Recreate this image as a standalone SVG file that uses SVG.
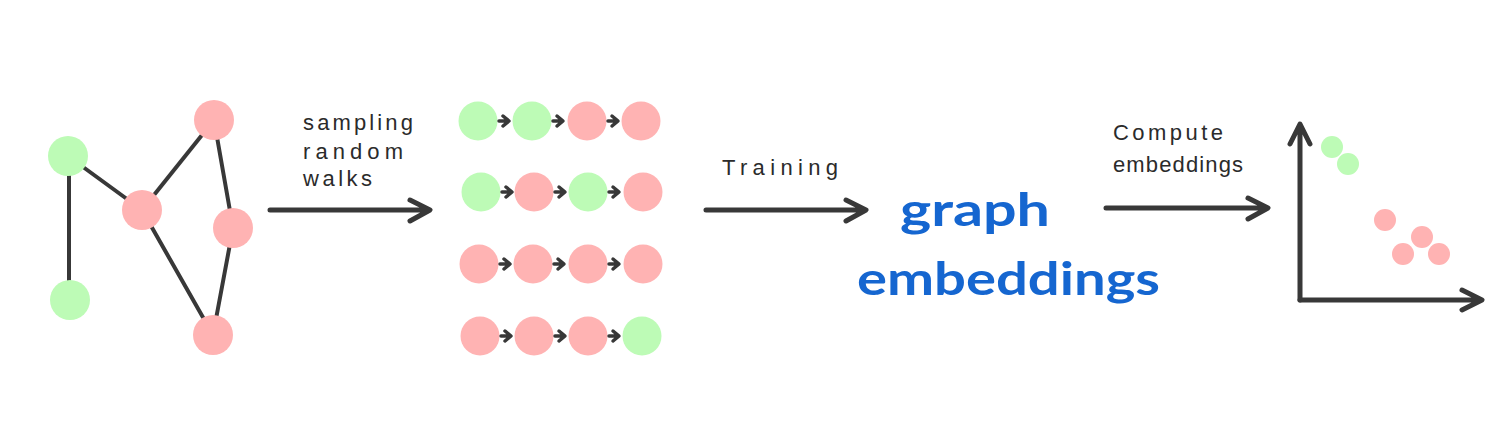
<svg xmlns="http://www.w3.org/2000/svg" width="1500" height="438" viewBox="0 0 1500 438">
<style>
.g{fill:#bdfbb6}
.p{fill:#ffb3b3}
.e{stroke:#383838;stroke-width:4;stroke-linecap:round;fill:none}
.a{stroke:#383838;stroke-width:5;stroke-linecap:round;stroke-linejoin:round;fill:none}
.s{stroke:#383838;stroke-width:3.5;stroke-linecap:round;stroke-linejoin:round;fill:none}
.t{font-family:"Liberation Sans",Arial,sans-serif;font-size:22px;fill:#2b2b2b}
.b{font-family:"Lato","Liberation Sans",sans-serif;font-size:46px;fill:#1566d0;font-weight:bold}
</style>
<rect width="1500" height="438" fill="#ffffff"/>
<g id="connectors">
<line class="e" x1="69" y1="160" x2="69" y2="296"/>
<line class="e" x1="68" y1="156" x2="142" y2="210"/>
<line class="e" x1="142" y1="210" x2="214" y2="120"/>
<line class="e" x1="142" y1="210" x2="213" y2="335"/>
<line class="e" x1="214" y1="120" x2="233" y2="228"/>
<line class="e" x1="233" y1="228" x2="213" y2="335"/>
<path class="a" d="M270 210 H429 M410 200 L430 210 L410 221"/>
<path class="a" d="M706 210 H864 M846 200 L866 210 L846 221"/>
<path class="a" d="M1106 208 H1267 M1248 198 L1268 208 L1248 219"/>
<path class="a" d="M1300 300 V126 M1290 144 L1300 124 L1310 144"/>
<path class="a" d="M1300 300 H1480 M1462 290 L1482 300 L1462 310"/>
</g>
<g id="graph-nodes">
<circle id="n1" class="g" cx="68" cy="156" r="20"/>
<circle id="n2" class="g" cx="70" cy="300" r="20"/>
<circle id="n3" class="p" cx="142" cy="210" r="20"/>
<circle id="n4" class="p" cx="214" cy="120" r="20"/>
<circle id="n5" class="p" cx="233" cy="228" r="20"/>
<circle id="n6" class="p" cx="213" cy="335" r="20"/>
</g>
<g id="label-sampling">
<text class="t" x="303" y="130" textLength="110" lengthAdjust="spacing">sampling</text>
<text class="t" x="303" y="159" textLength="100" lengthAdjust="spacing">random</text>
<text class="t" x="303" y="186" textLength="69" lengthAdjust="spacing">walks</text>
</g>
<g id="walks">
<g id="walk1">
<circle class="g" cx="478" cy="121" r="19.5"/>
<circle class="g" cx="532" cy="121" r="19.5"/>
<circle class="p" cx="587" cy="121" r="19.5"/>
<circle class="p" cx="641" cy="121" r="19.5"/>
</g>
<g id="walk2">
<circle class="g" cx="481" cy="192" r="19.5"/>
<circle class="p" cx="534" cy="192" r="19.5"/>
<circle class="g" cx="588" cy="192" r="19.5"/>
<circle class="p" cx="643" cy="192" r="19.5"/>
</g>
<g id="walk3">
<circle class="p" cx="479" cy="264" r="19.5"/>
<circle class="p" cx="533" cy="264" r="19.5"/>
<circle class="p" cx="588" cy="264" r="19.5"/>
<circle class="p" cx="643" cy="264" r="19.5"/>
</g>
<g id="walk4">
<circle class="p" cx="480" cy="336" r="19.5"/>
<circle class="p" cx="534" cy="336" r="19.5"/>
<circle class="p" cx="588" cy="336" r="19.5"/>
<circle class="g" cx="642" cy="336" r="19.5"/>
</g>
<g id="walk-arrows">
<path class="s" d="M499 121 H508 M503 116 L509 121 L503 126"/>
<path class="s" d="M553 121 H562 M557 116 L563 121 L557 126"/>
<path class="s" d="M608 121 H617 M612 116 L618 121 L612 126"/>
<path class="s" d="M502 192 H511 M506 187 L512 192 L506 197"/>
<path class="s" d="M555 192 H564 M559 187 L565 192 L559 197"/>
<path class="s" d="M609 192 H618 M613 187 L619 192 L613 197"/>
<path class="s" d="M500 264 H509 M504 259 L510 264 L504 269"/>
<path class="s" d="M554 264 H563 M558 259 L564 264 L558 269"/>
<path class="s" d="M609 264 H618 M613 259 L619 264 L613 269"/>
<path class="s" d="M501 336 H510 M505 331 L511 336 L505 341"/>
<path class="s" d="M555 336 H564 M559 331 L565 336 L559 341"/>
<path class="s" d="M609 336 H618 M613 331 L619 336 L613 341"/>
</g>
</g>
<g id="label-training">
<text class="t" x="722" y="175" textLength="116" lengthAdjust="spacing">Training</text>
</g>
<g id="embeddings-node">
<text class="b" x="900" y="226" textLength="150" lengthAdjust="spacingAndGlyphs">graph</text>
<text class="b" x="857" y="295" textLength="303" lengthAdjust="spacingAndGlyphs">embeddings</text>
</g>
<g id="label-compute">
<text class="t" x="1113" y="140" textLength="110" lengthAdjust="spacing">Compute</text>
<text class="t" x="1113" y="172" textLength="130" lengthAdjust="spacing">embeddings</text>
</g>
<g id="scatter">
<circle class="g" cx="1332" cy="147" r="11"/>
<circle class="g" cx="1348" cy="164" r="11"/>
<circle class="p" cx="1385" cy="220" r="11"/>
<circle class="p" cx="1422" cy="237" r="11"/>
<circle class="p" cx="1403" cy="254" r="11"/>
<circle class="p" cx="1439" cy="254" r="11"/>
</g>
</svg>
